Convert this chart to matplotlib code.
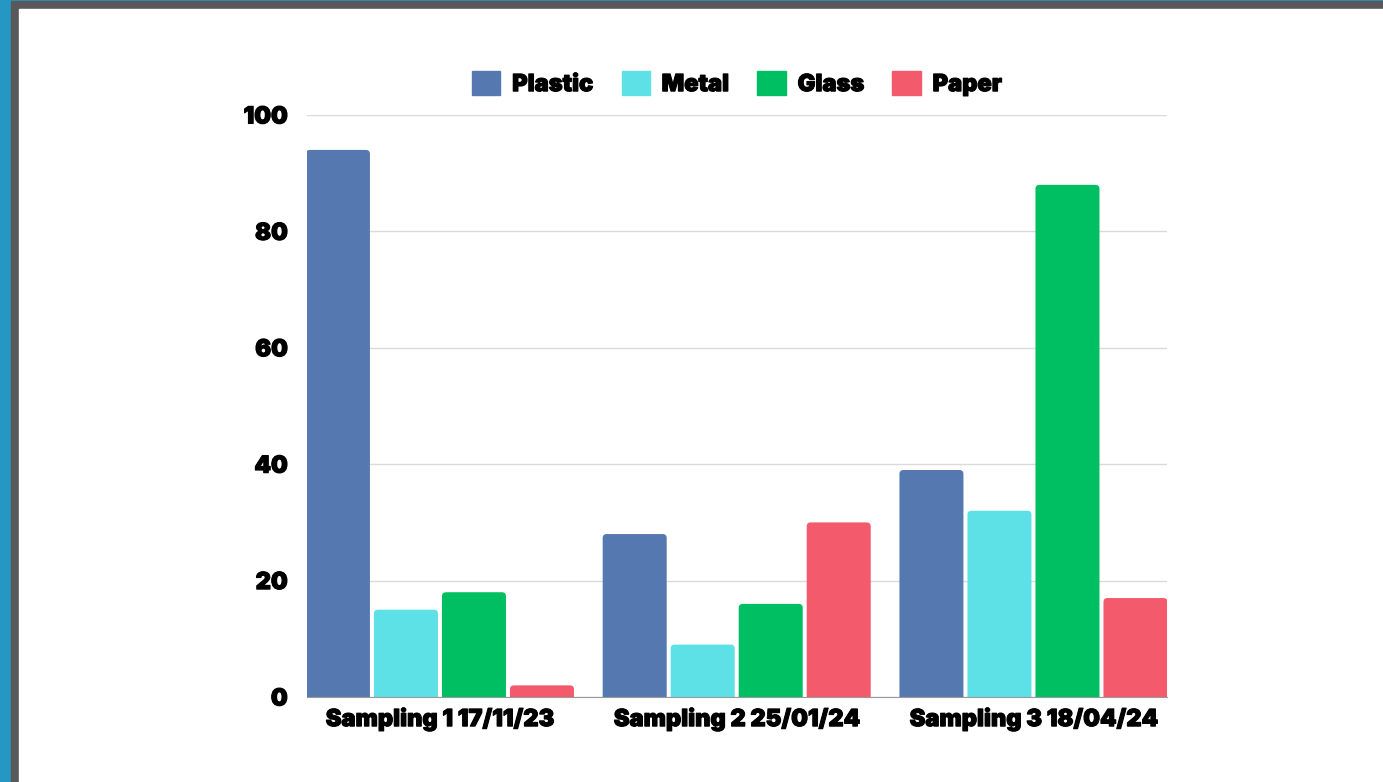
import numpy as np
import matplotlib.pyplot as plt
import matplotlib.patheffects as pe
from matplotlib.patches import Rectangle, FancyBboxPatch

# ----------------------------
# Data
# ----------------------------
groups = ["Sampling 1 17/11/23", "Sampling 2 25/01/24", "Sampling 3 18/04/24"]
materials = ["Plastic", "Metal", "Glass", "Paper"]
plastic = [94, 28, 39]
metal = [15, 9, 32]
glass = [18, 16, 88]
paper = [2, 30, 17]
colors = ["#5578B0", "#5DE0E6", "#00BF63", "#F35A6C"]

plt.rcParams['font.family'] = ['Inter', 'DejaVu Sans']
FW = 'black'
FS = 17
heavy = [pe.withStroke(linewidth=0.8, foreground="black")]

fig = plt.figure(figsize=(13.83, 7.82), dpi=100)

# frame around the slide
fig.patches.append(Rectangle((0, 0), 1, 1, transform=fig.transFigure,
                             color="#2497C4", zorder=-3))
fig.patches.append(Rectangle((11 / 1383, 0), 1, 1 - 1 / 782, transform=fig.transFigure,
                             color="#595959", zorder=-2))
fig.patches.append(Rectangle((19 / 1383, 0), 1, 1 - 9 / 782, transform=fig.transFigure,
                             color="white", zorder=-1))

ax = fig.add_axes([307 / 1383, 1 - 697 / 782, 860 / 1383, 582 / 782])
ax.set_facecolor("none")

x = np.arange(len(groups))
w = 64 / 296.7
step = 68 / 296.7
series = [plastic, metal, glass, paper]
for i, (name, vals) in enumerate(zip(materials, series)):
    off = (i - 1.5) * step
    bars = ax.bar(x + off, vals, width=w, color=colors[i], label=name, zorder=3)
    # swap the square bars for ones with slightly rounded tops
    for b in bars:
        b.set_visible(False)
        r = 0.0135
        p = FancyBboxPatch((b.get_x(), -2), b.get_width(), b.get_height() + 2,
                           boxstyle=f"round,pad=0,rounding_size={r}",
                           mutation_aspect=51, facecolor=colors[i],
                           edgecolor="none", zorder=3)
        ax.add_patch(p)

ax.set_xlim(-0.448, 2.45)
ax.set_ylim(0, 100)
ax.set_yticks([0, 20, 40, 60, 80, 100])
ax.yaxis.grid(True, color="#DADADA", linewidth=1)
ax.set_axisbelow(True)
for s in ["top", "right", "left"]:
    ax.spines[s].set_visible(False)
ax.spines["bottom"].set_color("#9A9A9A")
ax.spines["bottom"].set_zorder(4)
ax.tick_params(length=0)
ax.tick_params(axis="y", pad=14)
ax.tick_params(axis="x", pad=8)
ax.set_xticks(x)
ax.set_xticklabels(groups, fontsize=FS, fontweight=FW)
for lbl in ax.get_yticklabels() + ax.get_xticklabels():
    lbl.set_fontsize(FS)
    lbl.set_fontweight(FW)
    lbl.set_path_effects(heavy)

handles = [Rectangle((0, 0), 1, 1, color=c) for c in colors]
leg = ax.legend(handles, materials, loc="lower center", bbox_to_anchor=(0.5, 1.0), ncol=4,
                frameon=False, prop={'size': FS, 'weight': FW}, handlelength=1.2,
                handleheight=1.2, columnspacing=1.2, handletextpad=0.5, borderaxespad=0.4)
for t in leg.get_texts():
    t.set_path_effects(heavy)

plt.savefig("out.png", dpi=100)
